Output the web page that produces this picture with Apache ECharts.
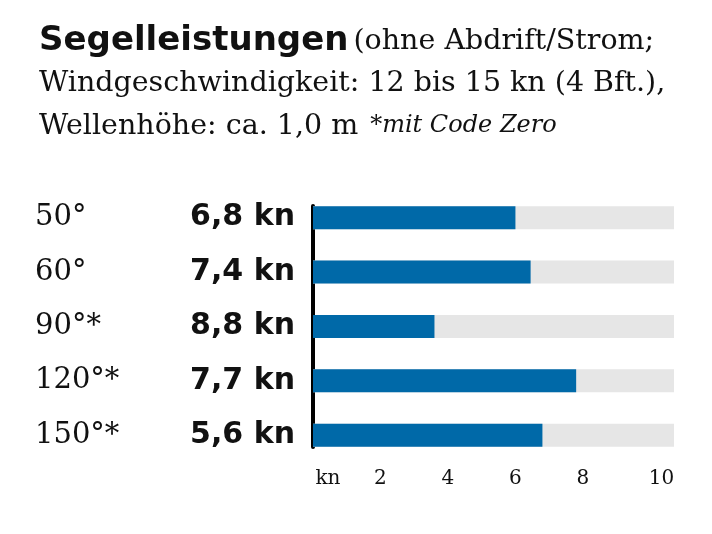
<!DOCTYPE html>
<html>
<head>
<meta charset="utf-8">
<script src="https://cdn.jsdelivr.net/npm/echarts@6/dist/echarts.min.js"></script>
<style>html,body{margin:0;padding:0;background:#fff}#c{width:712px;height:534px}</style>
</head>
<body>
<div id="c"></div>
<script>
const angles = ['50°', '60°', '90°*', '120°*', '150°*'];
const speedLabels = ['6,8 kn', '7,4 kn', '8,8 kn', '7,7 kn', '5,6 kn'];
const barValues = [6.0, 6.45, 3.6, 7.8, 6.8];
const tickValues = [0, 2, 4, 6, 8, 10];
const tickLabels = ['kn', '2', '4', '6', '8', '10'];
const axisMax = 10.7;

const SERIF = '"DejaVu Serif", serif';
const SANS = '"DejaVu Sans", sans-serif';

const chart = echarts.init(document.getElementById('c'), null, {renderer: 'canvas'});
chart.setOption({
  backgroundColor: '#ffffff',
  animation: false,
  title: {
    left: 34, top: 15,
    text: '{b|Segelleistungen} {n|(ohne Abdrift/Strom;}\n{n|Windgeschwindigkeit: 12 bis 15 kn (4 Bft.),}\n{n|Wellenhöhe: ca. 1,0 m} {i|*mit Code Zero}',
    textStyle: {
      fontWeight: 'normal',
      rich: {
        b: {fontFamily: SANS, fontWeight: 'bold', fontSize: 34, color: '#111', lineHeight: 42.5},
        n: {fontFamily: SERIF, fontWeight: 'normal', fontSize: 28.5, color: '#111', lineHeight: 42.5},
        i: {fontFamily: SERIF, fontWeight: 'normal', fontStyle: 'italic', fontSize: 24, color: '#111', lineHeight: 42.5, padding: [0, 0, 0, 7]}
      }
    }
  },
  grid: [
    {left: 313, right: 38, top: 190.5, bottom: 71.6, containLabel: false},
    {left: 313, width: 1, top: 206, height: 241}
  ],
  xAxis: [
    {
      type: 'value', min: 0, max: axisMax, interval: 2,
      axisLine: {show: false}, axisTick: {show: false}, splitLine: {show: false},
      axisLabel: {
        margin: 6,
        fontFamily: SERIF, fontSize: 20, color: '#111',
        formatter: function (v) {
          const i = tickValues.indexOf(v);
          if (i < 0) return '';
          if (v === 0) return '{l|' + tickLabels[i] + '}';
          if (v === 10) return '{r|' + tickLabels[i] + '}';
          return tickLabels[i];
        },
        rich: {
          l: {fontFamily: SERIF, fontSize: 20, color: '#111', padding: [0, 0, 0, 30]},
          r: {fontFamily: SERIF, fontSize: 20, color: '#111', padding: [0, 0, 0, 22]}
        }
      }
    },
    {gridIndex: 1, type: 'value', show: false}
  ],
  yAxis: [
    {
      type: 'category', data: angles, inverse: true,
      axisLine: {show: false}, axisTick: {show: false},
      axisLabel: {
        margin: 18,
        formatter: function (v, idx) {
          return '{a|' + v + '}{s|' + speedLabels[idx] + '}';
        },
        rich: {
          a: {fontFamily: SERIF, fontSize: 29, color: '#111', width: 120, align: 'left'},
          s: {fontFamily: SANS, fontWeight: 'bold', fontSize: 30, color: '#111', width: 140, align: 'right'}
        }
      }
    },
    {
      gridIndex: 1, type: 'value',
      axisLine: {show: true, onZero: false, lineStyle: {color: '#000', width: 4}},
      axisTick: {show: false}, axisLabel: {show: false}, splitLine: {show: false}
    }
  ],
  series: [{
    type: 'bar',
    data: barValues,
    barWidth: 23,
    itemStyle: {color: '#0069a8'},
    showBackground: true,
    backgroundStyle: {color: '#e6e6e6'}
  }]
});
</script>
</body>
</html>
